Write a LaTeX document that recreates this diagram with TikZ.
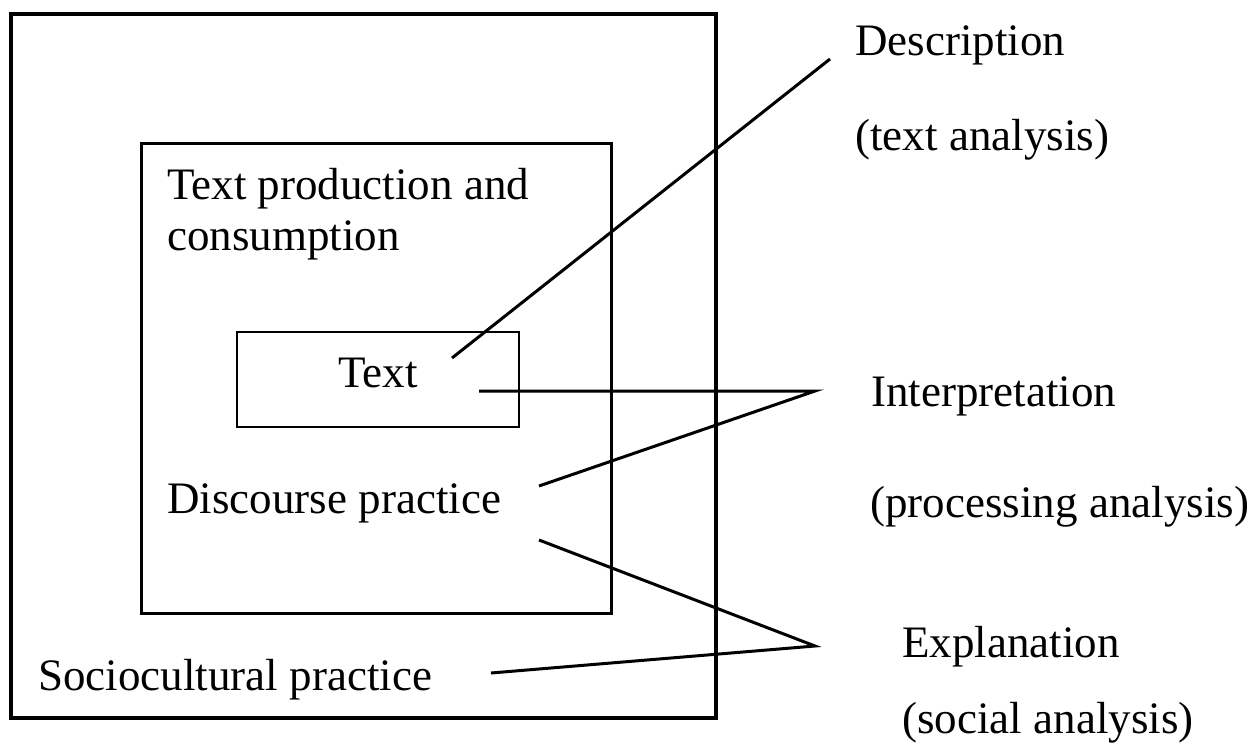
\documentclass[tikz,border=0pt]{standalone}
\usepackage{fontspec}
\setmainfont{Liberation Serif}
\begin{document}
\begin{tikzpicture}[x=0.5pt,y=-0.5pt,
  lbl/.style={anchor=base west,inner sep=0pt,font=\fontsize{22.5}{24}\selectfont},
  frame/.style={line width=1.5pt},
  link/.style={line width=1.5pt}]
\useasboundingbox (0,0) rectangle (1252,745);
% Nested boxes
\draw[frame, line width=2pt] (11,14) rectangle (716,718);
\draw[frame] (141,143) rectangle (611,613);
\draw[frame, line width=1.2pt] (237,332) rectangle (519,427);
% Labels in the boxes
\node[lbl] (prod) at (167,199) {Text production and};
\node[lbl] (cons) at (167,250) {consumption};
\node[lbl, anchor=base] (txt) at (378,387) {Text};
\node[lbl] (disc) at (167,513) {Discourse practice};
\node[lbl] (socio) at (38,690) {Sociocultural practice};
% Labels on the right
\node[lbl] (desc) at (855,55) {Description};
\node[lbl] (descsub) at (855,150) {(text analysis)};
\node[lbl] (interp) at (871,406) {Interpretation};
\node[lbl] (interpsub) at (870,517) {(processing analysis)};
\node[lbl] (expl) at (902,657) {Explanation};
\node[lbl] (explsub) at (902,733) {(social analysis)};
% Line ends
\coordinate (descpt) at (830,59);
\coordinate (interppt) at (815,391);
\coordinate (explpt) at (815,646);
\coordinate (txtup) at (452,358);
\coordinate (txtright) at (479,391);
\coordinate (discup) at (539,486);
\coordinate (discdown) at (539,540);
\coordinate (socioright) at (491,673);
% Links
\draw[link] (txtup) -- (descpt);
\draw[link] (txtright) -- (interppt) -- (discup);
\draw[link] (discdown) -- (explpt) -- (socioright);
\end{tikzpicture}
\end{document}
